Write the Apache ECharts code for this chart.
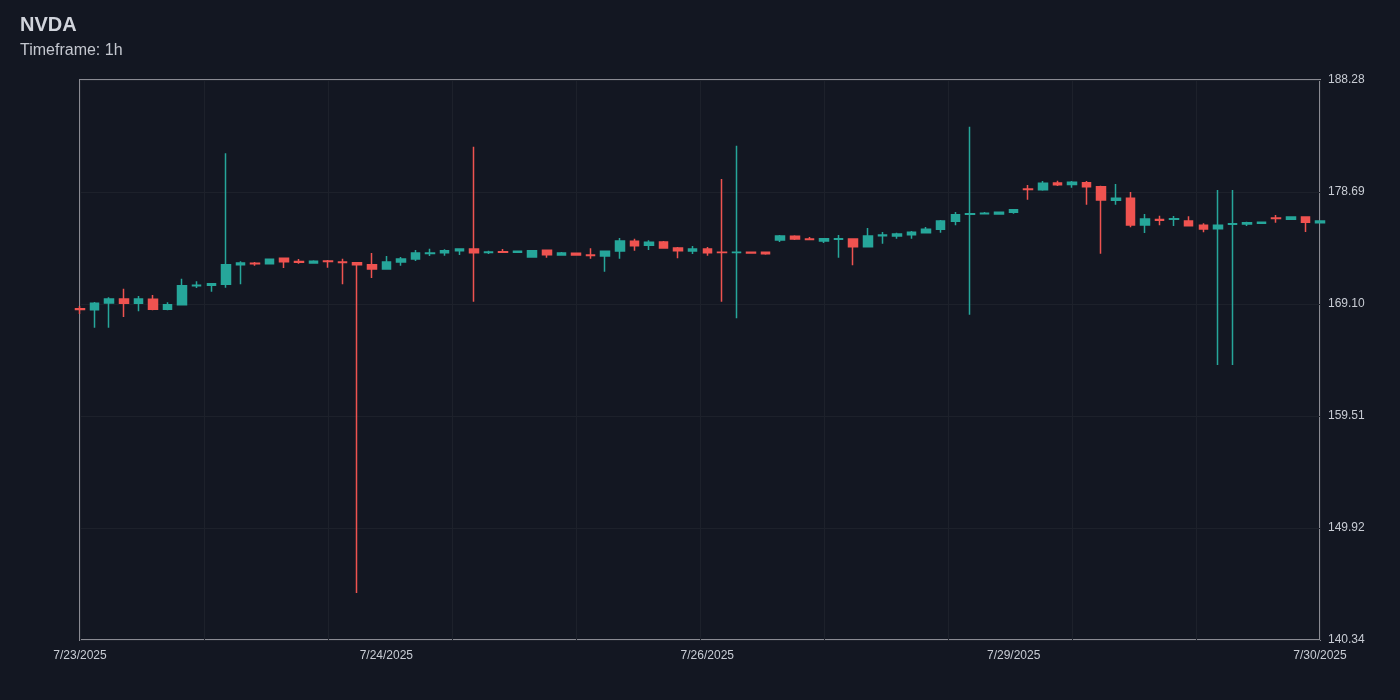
<!DOCTYPE html>
<html>
<head>
<meta charset="utf-8">
<title>NVDA 1h</title>
<script src="https://cdn.jsdelivr.net/npm/echarts@6/dist/echarts.min.js"></script>
<style>
  html, body { margin: 0; padding: 0; background: #131722; }
  #chart { width: 1400px; height: 700px; }
</style>
</head>
<body>
<div id="chart"></div>
<script>
// hourly candles
const opens = [
  168.69, 168.62, 169.19, 169.53, 169.16, 169.51, 168.65, 169.04, 170.66, 170.71,
  170.79, 172.47, 172.60, 172.55, 173.02, 172.74, 172.61, 172.79, 172.70, 172.64,
  172.47, 172.10, 172.70, 172.96, 173.43, 173.50, 173.67, 173.81, 173.51, 173.58,
  173.53, 173.13, 173.71, 173.30, 173.45, 173.30, 173.21, 173.64, 174.47, 174.13,
  174.41, 173.90, 173.64, 173.81, 173.54, 173.52, 173.53, 173.53, 174.58, 174.90,
  174.67, 174.50, 174.64, 174.67, 174.01, 174.95, 174.93, 175.04, 175.21, 175.50,
  176.18, 176.78, 176.84, 176.81, 176.96, 178.95, 178.89, 179.46, 179.34, 179.49,
  179.15, 177.98, 178.15, 175.87, 176.33, 176.36, 176.21, 175.84, 175.55, 175.93,
  175.95, 176.01, 176.47, 176.36, 176.55, 176.06
];
const closes = [
  168.63, 169.16, 169.53, 169.16, 169.53, 168.65, 169.04, 170.67, 170.71, 170.84,
  172.47, 172.61, 172.56, 172.93, 172.73, 172.68, 172.76, 172.74, 172.66, 172.47,
  172.10, 172.70, 172.96, 173.47, 173.47, 173.67, 173.81, 173.50, 173.56, 173.53,
  173.61, 173.67, 173.33, 173.47, 173.30, 173.26, 173.61, 174.49, 174.09, 174.39,
  173.90, 173.67, 173.81, 173.50, 173.52, 173.54, 173.47, 173.41, 174.93, 174.67,
  174.63, 174.69, 174.69, 174.01, 174.93, 175.01, 175.10, 175.24, 175.50, 176.21,
  176.75, 176.83, 176.88, 176.96, 177.18, 178.90, 179.44, 179.32, 179.53, 179.15,
  178.01, 178.15, 175.87, 176.38, 176.27, 176.40, 175.81, 175.53, 175.84, 175.98,
  176.07, 176.10, 176.42, 176.55, 176.10, 176.21
];
const lows = [
  168.25, 167.07, 167.07, 167.99, 168.48, 168.57, 168.57, 168.99, 170.47, 170.16,
  170.50, 170.79, 172.38, 172.50, 172.19, 172.56, 172.56, 172.21, 170.79, 144.36,
  171.33, 172.07, 172.38, 172.79, 173.21, 173.24, 173.30, 169.30, 173.39, 173.50,
  173.52, 173.12, 173.07, 173.24, 173.27, 172.98, 171.87, 172.98, 173.67, 173.73,
  173.84, 173.02, 173.39, 173.24, 169.30, 167.88, 173.41, 173.33, 174.41, 174.58,
  174.58, 174.33, 173.07, 172.42, 173.99, 174.27, 174.69, 174.69, 175.16, 175.21,
  175.84, 168.19, 176.81, 176.78, 176.84, 178.03, 178.80, 179.21, 179.06, 177.61,
  173.41, 177.61, 175.67, 175.18, 175.84, 175.78, 175.78, 175.24, 163.88, 163.88,
  175.78, 175.99, 176.06, 176.32, 175.27, 176.06
];
const highs = [
  168.93, 169.28, 169.68, 170.41, 169.79, 169.88, 169.25, 171.27, 171.05, 170.88,
  182.00, 172.76, 172.70, 172.98, 173.04, 172.96, 172.84, 172.87, 172.98, 172.70,
  173.47, 173.21, 173.13, 173.73, 173.84, 173.79, 173.83, 182.57, 173.67, 173.81,
  173.62, 173.69, 173.73, 173.56, 173.50, 173.87, 173.64, 174.75, 174.69, 174.56,
  174.50, 173.98, 174.07, 173.98, 179.81, 182.66, 173.56, 173.56, 175.01, 174.99,
  174.84, 174.71, 175.01, 174.73, 175.61, 175.27, 175.21, 175.35, 175.70, 176.30,
  176.98, 184.28, 176.98, 176.98, 177.24, 179.29, 179.64, 179.66, 179.64, 179.64,
  179.23, 179.38, 178.69, 176.81, 176.66, 176.64, 176.61, 176.01, 178.86, 178.86,
  176.15, 176.12, 176.72, 176.58, 176.61, 176.24
];

// date labels on the bar-index axis
const tickIndex = [0, 21, 43, 64, 85];
const tickLabels = ['7/23/2025', '7/24/2025', '7/26/2025', '7/29/2025', '7/30/2025'];

const yMin = 140.34;
const yMax = 188.28;

const FONT = '"Liberation Sans", Arial, sans-serif';

// [index, open, close, low, high]
const candles = opens.map((o, i) => [i, o, closes[i], lows[i], highs[i]]);
const lastIndex = opens.length - 1;

// price labels are cut, not rounded, to two decimals
function cut2(v) {
  return (Math.floor(v * 100 + 1e-6) / 100).toFixed(2);
}

const chart = echarts.init(document.getElementById('chart'), null, { renderer: 'canvas' });

chart.setOption({
  backgroundColor: '#131722',
  animation: false,
  textStyle: { fontFamily: FONT },
  title: [
    {
      text: 'NVDA',
      left: 20,
      top: 15,
      padding: 0,
      textStyle: { color: '#d1d4dc', fontSize: 20, fontWeight: 'bold', fontFamily: FONT }
    },
    {
      text: 'Timeframe: 1h',
      left: 20,
      top: 43,
      padding: 0,
      textStyle: { color: '#c4c7cf', fontSize: 16, fontWeight: 'normal', fontFamily: FONT }
    }
  ],
  grid: {
    left: 80,
    right: 80,
    top: 80,
    bottom: 60,
    show: true,
    borderColor: '#8a8b93',
    borderWidth: 2,
    backgroundColor: 'transparent'
  },
  xAxis: {
    type: 'value',
    min: 0,
    max: lastIndex,
    interval: lastIndex / 10,
    axisLine: { show: false },
    axisTick: { show: false },
    splitLine: { show: true, lineStyle: { color: '#1d212b', width: 1 } },
    axisLabel: {
      color: '#c8ccd4',
      fontSize: 12,
      margin: 10,
      customValues: tickIndex,
      formatter: (v) => {
        const k = tickIndex.indexOf(Math.round(v));
        return k >= 0 ? tickLabels[k] : '';
      }
    }
  },
  yAxis: {
    type: 'value',
    position: 'right',
    min: yMin,
    max: yMax,
    interval: 9.588,
    axisLine: { show: false },
    axisTick: { show: false },
    axisLabel: {
      color: '#c8ccd4',
      fontSize: 12,
      margin: 8,
      formatter: cut2
    },
    splitLine: { show: true, lineStyle: { color: '#1d212b', width: 1 } }
  },
  series: [
    {
      type: 'candlestick',
      data: candles,
      encode: { x: 0, y: [1, 2, 3, 4] },
      barWidth: 9,
      itemStyle: {
        color: '#26a69a',
        color0: '#ef5350',
        borderColor: '#26a69a',
        borderColor0: '#ef5350',
        borderWidth: 1.5
      }
    }
  ]
});
</script>
</body>
</html>
